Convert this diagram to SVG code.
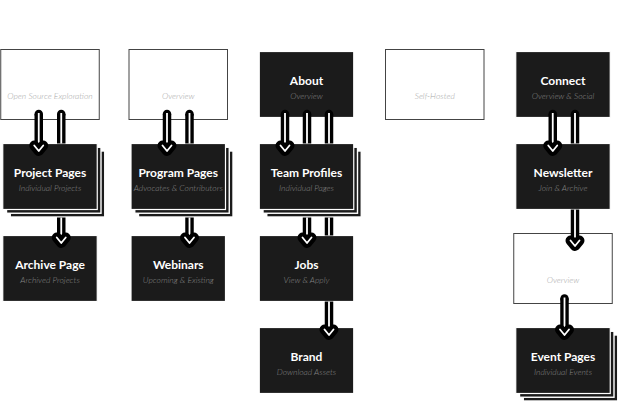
<svg xmlns="http://www.w3.org/2000/svg" width="620" height="404" viewBox="0 0 620 404">
<style>
.bg{fill:#fff}
.wb{fill:#fff;stroke:#444;stroke-width:1}
.db{fill:#1b1b1b;stroke:#fff;stroke-width:1.2}
.ly{fill:#1b1b1b;stroke:#fff;stroke-width:1.4}
.t{font-family:Lato,"Liberation Sans",sans-serif;font-weight:700;font-size:12px;fill:#fff;text-anchor:middle}
.s{font-family:Lato,"Liberation Sans",sans-serif;font-style:italic;font-weight:300;font-size:8.5px;fill:#858585;text-anchor:middle}
.w{font-family:Lato,"Liberation Sans",sans-serif;font-style:italic;font-weight:300;font-size:8.5px;fill:#a8a8a8;text-anchor:middle}
.lk{fill:none;stroke:#000;stroke-width:8.5;stroke-linecap:butt}
.lw{fill:none;stroke:#fff;stroke-width:1.8;stroke-linecap:butt}
.ak{fill:none;stroke:#000;stroke-width:10;stroke-linecap:round;stroke-linejoin:round}
.aw{fill:none;stroke:#fff;stroke-width:1.8;stroke-linecap:round;stroke-linejoin:round}
</style>
<defs>
<g id="ah"><polyline class="ak" points="-4.5,-5.5 0,0 4.5,-5.5"/><polyline class="aw" points="-4.5,-5.5 0,0 4.5,-5.5"/></g>
<circle id="cap" r="4.25" fill="#000"/>
</defs>
<rect class="bg" width="620" height="404"/>

<g id="n1"><rect class="wb" x="0.75" y="49.5" width="98.5" height="70"/><text class="w" x="50" y="98.5">Open Source Exploration</text></g>
<g id="n2"><rect class="ly" x="10.25" y="151" width="94.5" height="66"/><rect class="ly" x="6.5" y="147.25" width="94.5" height="66"/><rect class="db" x="2.75" y="143.5" width="94.5" height="66"/><text class="t" x="50" y="176.5">Project Pages</text><text class="s" x="50" y="190.5">Individual Projects</text></g>
<g id="n3"><rect class="db" x="2.75" y="235.5" width="94.5" height="66"/><text class="t" x="50" y="268.5">Archive Page</text><text class="s" x="50" y="282.5">Archived Projects</text></g>

<g id="n4"><rect class="wb" x="129" y="49.5" width="98.5" height="70"/><text class="w" x="178.25" y="98.5">Overview</text></g>
<g id="n5"><rect class="ly" x="138.5" y="151" width="94.5" height="66"/><rect class="ly" x="134.75" y="147.25" width="94.5" height="66"/><rect class="db" x="131" y="143.5" width="94.5" height="66"/><text class="t" x="178.25" y="176.5">Program Pages</text><text class="s" x="178.25" y="190.5">Advocates &amp; Contributors</text></g>
<g id="n6"><rect class="db" x="131" y="235.5" width="94.5" height="66"/><text class="t" x="178.25" y="268.5">Webinars</text><text class="s" x="178.25" y="282.5">Upcoming &amp; Existing</text></g>

<g id="n7"><rect class="db" x="259.25" y="51.5" width="94.5" height="66"/><text class="t" x="306.5" y="84.5">About</text><text class="s" x="306.5" y="98.5">Overview</text></g>
<g id="n8"><rect class="ly" x="266.75" y="151" width="94.5" height="66"/><rect class="ly" x="263" y="147.25" width="94.5" height="66"/><rect class="db" x="259.25" y="143.5" width="94.5" height="66"/><text class="t" x="306.5" y="176.5">Team Profiles</text><text class="s" x="306.5" y="190.5">Individual Pages</text></g>
<g id="n9"><rect class="db" x="259.25" y="235.5" width="94.5" height="66"/><text class="t" x="306.5" y="268.5">Jobs</text><text class="s" x="306.5" y="282.5">View &amp; Apply</text></g>
<g id="n10"><rect class="db" x="259.25" y="327.5" width="94.5" height="66"/><text class="t" x="306.5" y="360.5">Brand</text><text class="s" x="306.5" y="374.5">Download Assets</text></g>

<g id="n11"><rect class="wb" x="385.5" y="49.5" width="98.5" height="70"/><text class="w" x="434.75" y="98.5">Self-Hosted</text></g>

<g id="n12"><rect class="db" x="515.75" y="51.5" width="94.5" height="66"/><text class="t" x="563" y="84.5">Connect</text><text class="s" x="563" y="98.5">Overview &amp; Social</text></g>
<g id="n13"><rect class="db" x="515.75" y="143.5" width="94.5" height="66"/><text class="t" x="563" y="176.5">Newsletter</text><text class="s" x="563" y="190.5">Join &amp; Archive</text></g>
<g id="n14"><rect class="wb" x="513.75" y="233.5" width="98.5" height="70"/><text class="w" x="563" y="282.5">Overview</text></g>
<g id="n15"><rect class="ly" x="523.25" y="335" width="94.5" height="66"/><rect class="ly" x="519.5" y="331.25" width="94.5" height="66"/><rect class="db" x="515.75" y="327.5" width="94.5" height="66"/><text class="t" x="563" y="360.5">Event Pages</text><text class="s" x="563" y="374.5">Individual Events</text></g>

<g id="connectors">
<g id="c1"><use href="#cap" x="38.75" y="114"/><path class="lk" d="M38.75 114V151"/><path class="lw" d="M38.75 113V151"/><use href="#ah" x="38.75" y="151"/></g>
<g id="c2"><use href="#cap" x="61.25" y="114"/><path class="lk" d="M61.25 114V143.5M61.25 217.5V243"/><path class="lw" d="M61.25 113V143.5M61.25 217.5V243"/><use href="#ah" x="61.25" y="243"/></g>
<g id="c3"><use href="#cap" x="167" y="114"/><path class="lk" d="M167 114V151"/><path class="lw" d="M167 113V151"/><use href="#ah" x="167" y="151"/></g>
<g id="c4"><use href="#cap" x="189.5" y="114"/><path class="lk" d="M189.5 114V143.5M189.5 217.5V243"/><path class="lw" d="M189.5 113V143.5M189.5 217.5V243"/><use href="#ah" x="189.5" y="243"/></g>
<g id="c5"><use href="#cap" x="285" y="114"/><path class="lk" d="M285 114V151"/><path class="lw" d="M285 113V151"/><use href="#ah" x="285" y="151"/></g>
<g id="c6"><use href="#cap" x="307" y="114"/><path class="lk" d="M307 114V143.5M307 217.5V243"/><path class="lw" d="M307 113V143.5M307 217.5V243"/><use href="#ah" x="307" y="243"/></g>
<g id="c7"><use href="#cap" x="329" y="114"/><path class="lk" d="M329 114V143.5M329 217.5V235.5M329 301.5V335"/><path class="lw" d="M329 113V143.5M329 217.5V235.5M329 301.5V335"/><use href="#ah" x="329" y="335"/></g>
<g id="c8"><use href="#cap" x="552.75" y="114"/><path class="lk" d="M552.75 114V151"/><path class="lw" d="M552.75 113V151"/><use href="#ah" x="552.75" y="151"/></g>
<g id="c9"><use href="#cap" x="575" y="114"/><path class="lk" d="M575 114V143.5M575 209.5V246"/><path class="lw" d="M575 113V143.5M575 209.5V246"/><use href="#ah" x="575" y="246"/></g>
<g id="c10"><use href="#cap" x="564.5" y="298.5"/><path class="lk" d="M564.5 298.5V335"/><path class="lw" d="M564.5 297.5V335"/><use href="#ah" x="564.5" y="335"/></g>
</g>
</svg>
